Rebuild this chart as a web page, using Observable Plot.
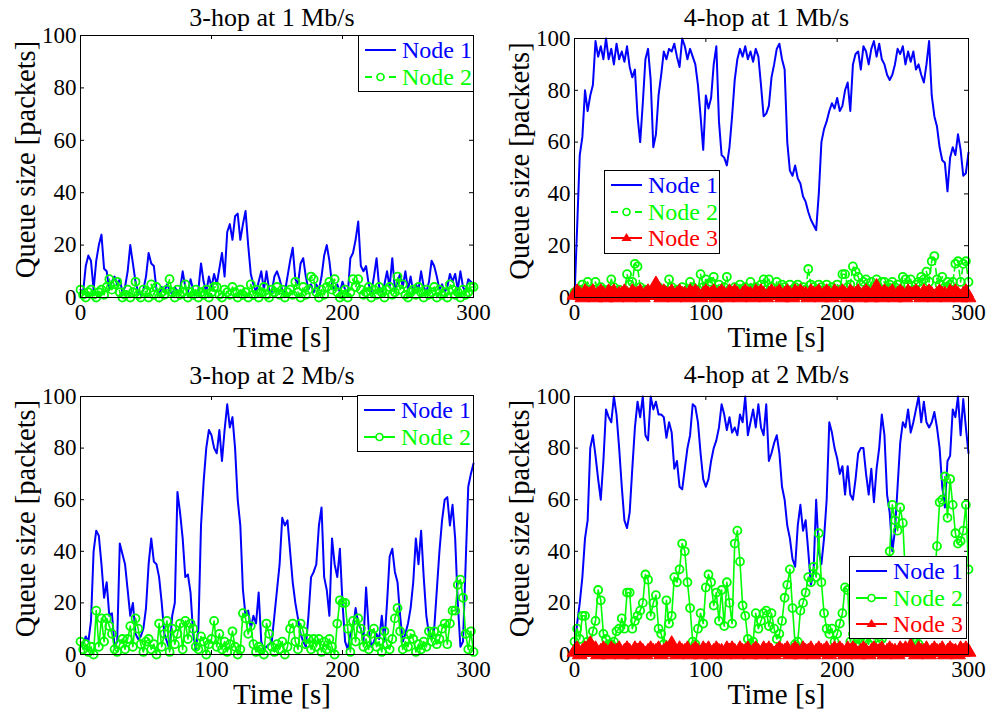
<!DOCTYPE html>
<html><head><meta charset="utf-8">
<script src="https://cdn.jsdelivr.net/npm/d3@7"></script>
<script src="https://cdn.jsdelivr.net/npm/@observablehq/plot@0.6"></script>
<style>
body{margin:0;background:#fff;}
#wrap{position:relative;width:992px;height:712px;overflow:hidden;background:#fff;font-family:"Liberation Serif","Times New Roman",serif;}
.panel{position:absolute;width:496px;height:356px;}
.legend{position:absolute;background:#fff;border:1.5px solid #000;box-sizing:border-box;}
.legend .sw{position:absolute;}
.legend .lb{position:absolute;font-size:24px;line-height:26px;white-space:nowrap;}
</style>
</head><body><div id="wrap"></div>
<script>
// time axis: one sample every 2 s, 0..300
const timeStep = 2;
const xTicks = [0, 100, 200, 300];
const yTicks = [0, 20, 40, 60, 80, 100];
const seriesNames = ["Node 1", "Node 2", "Node 3"];
const titles = ["3-hop at 1 Mb/s", "4-hop at 1 Mb/s", "3-hop at 2 Mb/s", "4-hop at 2 Mb/s"];
const xLabel = "Time [s]";
const yLabel = "Queue size [packets]";

// 3-hop at 1 Mb/s
const a_node1 = [
3,2,12,16,14,3,14,20,24,11,
10,3,6,8,5,7,2,4,10,20,
13,6,2,1,3,8,17,13,12,3,
1,4,2,5,3,1,4,2,3,10,
4,2,7,3,1,3,13,6,2,8,
4,9,5,11,17,8,25,28,22,31,
32,22,28,33,20,9,5,2,6,10,
3,10,3,2,8,10,7,3,2,8,
14,19,7,5,13,15,8,3,5,2,
5,3,8,16,20,14,5,3,5,2,
6,3,1,15,17,22,29,12,10,12,
5,2,8,15,4,2,5,10,4,15,
3,6,9,4,10,3,8,2,5,3,
10,4,2,6,14,12,8,3,5,2,
4,9,6,9,3,10,4,2,7,6,
5];
const a_node2 = [
3,1,0,2,3,1,0,2,3,1,
4,7,3,5,6,2,0,1,3,0,
2,6,1,0,3,2,0,5,1,4,
0,2,1,3,7,2,0,3,1,2,
5,0,2,1,3,0,2,1,3,0,
2,4,4,1,0,3,2,1,4,2,
0,3,1,2,0,5,1,3,0,2,
4,1,0,3,2,4,1,3,0,2,
3,1,6,2,0,4,1,3,8,7,
2,0,3,1,4,6,3,7,2,0,
1,3,0,2,7,4,7,3,1,2,
4,0,3,1,4,2,0,3,4,1,
2,8,3,5,1,0,2,3,1,4,
2,0,3,1,2,4,0,3,1,2,
0,5,3,1,2,0,3,1,2,4,
4];

// 4-hop at 1 Mb/s
const b_node1 = [
0,27,55,62,80,72,78,82,99,93,
97,92,100,92,96,90,98,92,95,91,
97,89,85,88,70,60,75,92,96,84,
58,63,78,86,95,92,96,95,98,93,
89,100,97,92,96,93,90,82,70,57,
78,73,77,90,97,68,55,54,51,58,
70,84,92,96,93,97,92,95,91,96,
93,82,70,71,74,85,90,96,98,92,
88,60,49,47,51,46,44,39,37,33,
30,28,26,40,60,65,68,72,75,73,
77,72,74,80,83,72,90,94,95,88,
97,95,90,96,99,93,98,92,90,86,
84,86,90,96,94,97,90,95,91,95,
88,90,86,83,90,99,78,70,66,58,
53,52,41,54,58,55,63,57,47,48,
56];
const b_node2 = [
2,1,3,5,2,6,3,1,6,2,
4,3,1,3,7,4,2,3,1,2,
9,5,6,13,12,4,2,3,1,2,
3,2,4,1,3,2,7,4,2,3,
1,4,2,3,6,4,2,3,9,4,
7,5,6,8,3,5,2,4,8,3,
2,4,1,5,3,4,2,6,3,4,
2,5,7,3,7,4,2,6,3,5,
4,2,5,3,4,5,2,4,3,11,
5,4,3,5,4,2,5,3,4,2,
5,3,9,9,4,5,12,10,8,5,
6,7,3,6,4,7,3,6,6,3,
5,6,4,5,3,8,7,5,7,3,
5,6,8,7,10,6,14,16,7,5,
8,4,6,5,6,13,14,6,13,14,
6];
const b_node3 = [
1,2,1,0,2,1,1,2,0,1,
2,1,0,2,1,2,0,1,1,2,
1,0,2,1,1,2,0,1,2,1,
1,5,1,0,2,1,1,2,0,1,
2,1,1,0,2,1,2,1,0,1,
2,1,1,2,0,1,2,1,0,2,
1,2,1,0,1,2,1,1,0,2,
1,2,1,0,1,2,1,1,2,0,
1,2,1,0,2,1,2,1,1,0,
2,1,1,2,0,1,2,1,0,2,
1,1,2,1,0,2,1,1,2,0,
1,2,1,0,2,4,1,0,2,1,
1,2,0,1,2,1,0,2,1,1,
2,1,0,2,1,2,1,0,1,2,
1,1,0,2,1,2,1,0,1,2,
0];

// 3-hop at 2 Mb/s
const c_node1 = [
3,4,7,5,13,40,48,46,35,22,
28,15,16,3,5,43,39,35,25,15,
20,8,6,7,10,18,35,45,36,35,
30,20,8,5,2,15,20,63,55,45,
30,31,24,8,2,10,50,67,80,87,
85,80,78,87,75,87,97,88,92,80,
60,50,25,15,17,10,15,12,24,5,
2,3,4,5,15,25,35,53,50,52,
40,28,20,14,8,5,3,15,30,32,
35,50,57,30,25,15,45,35,30,41,
20,5,2,8,10,18,12,10,5,26,
10,3,5,8,6,15,5,20,38,41,
32,28,15,5,8,12,18,28,45,35,
48,30,15,8,6,10,25,40,52,60,
61,50,58,45,20,3,5,35,65,70,
74];
const c_node2 = [
5,2,4,1,3,0,17,3,14,5,
14,11,8,2,1,4,6,2,6,11,
3,14,10,4,1,5,6,2,4,0,
12,3,8,13,1,10,4,8,12,2,
13,6,12,10,3,2,7,5,0,4,
6,13,3,8,2,5,1,4,9,3,
0,2,16,14,8,11,4,1,3,2,
0,12,8,3,1,4,2,5,0,3,
10,12,5,2,12,9,4,6,2,6,
3,6,1,5,2,6,3,0,12,21,
20,20,10,1,13,5,14,10,3,6,
2,8,10,3,5,1,9,4,2,6,
14,18,9,2,5,3,8,6,1,4,
2,5,3,9,5,9,4,6,10,12,
4,12,17,17,27,29,22,8,2,9,
1];

// 4-hop at 2 Mb/s
const d_node1 = [
2,12,20,30,45,52,80,85,77,68,
60,75,95,92,90,100,93,80,65,52,
49,55,72,88,98,92,100,85,83,100,
95,98,93,93,92,84,90,86,72,75,
65,64,72,80,85,97,96,90,78,68,
65,68,75,80,83,88,97,93,87,92,
86,88,85,93,90,100,85,90,95,88,
97,88,85,97,75,78,82,85,78,65,
60,50,45,37,34,50,58,48,52,40,
27,32,60,40,35,45,60,90,86,80,
76,70,73,62,73,62,60,68,78,80,
80,70,62,72,59,72,80,93,85,62,
55,40,48,65,82,90,88,95,86,90,
95,100,90,98,90,88,90,94,88,80,
65,57,75,77,95,92,100,85,99,88,
78];
const d_node2 = [
5,10,6,15,15,5,4,9,13,25,
21,8,6,4,4,5,9,10,14,10,
24,24,10,13,15,17,20,31,29,15,
20,23,10,8,4,21,12,15,30,28,
33,43,40,28,18,5,4,10,16,12,
26,31,28,19,24,13,25,11,28,20,
12,43,48,36,19,15,6,4,5,16,
10,13,16,17,11,16,10,6,8,13,
22,27,33,18,4,5,17,20,24,30,
28,34,30,47,28,16,10,8,10,5,
8,12,16,26,25,5,8,4,6,10,
5,8,4,12,6,9,5,6,10,20,
40,58,52,48,57,51,30,15,8,5,
10,4,8,12,18,25,20,30,42,59,
60,69,53,68,58,47,43,44,48,58,
33];
const d_node3 = [
1,2,0,1,2,1,4,1,2,0,
1,2,1,0,2,1,1,2,0,1,
2,1,0,2,1,2,1,0,1,2,
1,1,2,0,1,2,1,4,1,0,
2,1,1,2,0,1,2,1,0,2,
1,2,0,1,2,1,1,0,2,1,
2,1,0,2,1,1,2,0,1,2,
1,0,2,1,2,1,0,1,2,1,
1,2,0,1,2,1,0,2,1,1,
2,0,1,2,1,1,2,0,1,2,
1,2,1,0,2,1,2,1,0,1,
2,1,0,1,2,1,1,2,0,1,
2,1,1,0,2,1,2,1,3,1,
0,2,1,1,2,0,1,2,1,1,
2,0,1,2,1,1,0,2,1,2,
1];

const BLUE = "#0000ff", GREEN = "#00ff00", RED = "#ff0000";
const FONT = '"Liberation Serif","Times New Roman",serif';

const panels = [
  {left:0, top:0, title:titles[0], m:{l:80,r:23,t:35,b:59}, s:[a_node1,a_node2,null], dashed:true, tdy:-10,
   legend:{x:358,y:35,w:116,h:57}},
  {left:496, top:0, title:titles[1], m:{l:78,r:24,t:38,b:59}, s:[b_node1,b_node2,b_node3], dashed:true, tdy:-13,
   legend:{x:604,y:170,w:116,h:84}},
  {left:0, top:356, title:titles[2], m:{l:80,r:23,t:40,b:58}, s:[c_node1,c_node2,null], dashed:false, tdy:-13,
   legend:{x:357,y:395,w:117,h:57}},
  {left:496, top:356, title:titles[3], m:{l:78,r:24,t:40,b:58}, s:[d_node1,d_node2,d_node3], dashed:false, tdy:-14,
   legend:{x:849,y:556,w:118,h:83}}
];

const wrap = document.getElementById("wrap");
const toRows = arr => arr.map((v, i) => ({t: i * timeStep, v}));

panels.forEach(p => {
  const W = 496, H = 356;
  const pw = W - p.m.l - p.m.r, ph = H - p.m.t - p.m.b;
  const marks = [
    Plot.tickX(xTicks, {x: d => d, insetTop: ph - 4, stroke: "black"}),
    Plot.tickX(xTicks, {x: d => d, insetBottom: ph - 4, stroke: "black"}),
    Plot.tickY(yTicks, {y: d => d, insetRight: pw - 4, stroke: "black"}),
    Plot.tickY(yTicks, {y: d => d, insetLeft: pw - 4, stroke: "black"}),
    Plot.axisX(xTicks, {tickSize: 0, tickPadding: 6, label: null, fontSize: 23}),
    Plot.axisY(yTicks, {tickSize: 0, tickPadding: 4, label: null, fontSize: 23})
  ];
  const [s1, s2, s3] = p.s;
  marks.push(Plot.line(toRows(s1), {x: "t", y: "v", stroke: BLUE, strokeWidth: 2}));
  const r2 = toRows(s2);
  marks.push(Plot.line(r2, {x: "t", y: "v", stroke: GREEN, strokeWidth: 1.6, strokeDasharray: p.dashed ? "6,4" : null}));
  marks.push(Plot.dot(r2, {x: "t", y: "v", r: 4, stroke: GREEN, strokeWidth: 1.8, fill: "none"}));
  if (s3) {
    const r3 = toRows(s3);
    marks.push(Plot.line(r3, {x: "t", y: "v", stroke: RED, strokeWidth: 3}));
    marks.push(Plot.dot(r3, {x: "t", y: "v", r: 5.5, symbol: "triangle", fill: RED, stroke: RED, strokeWidth: 1}));
  }
  marks.push(Plot.frame({stroke: "black", strokeWidth: 1}));
  marks.push(Plot.text([p.title], {text: d => d, frameAnchor: "top", textAnchor: "middle", lineAnchor: "bottom", dx: -5, dy: p.tdy, fontSize: 26}));
  marks.push(Plot.text([xLabel], {text: d => d, frameAnchor: "bottom", textAnchor: "middle", lineAnchor: "bottom", dx: 5, dy: 49, fontSize: 29}));
  marks.push(Plot.text([yLabel], {text: d => d, frameAnchor: "left", textAnchor: "middle", lineAnchor: "middle", rotate: -90, dx: -55, dy: -7, fontSize: 28.5}));

  const chart = Plot.plot({
    width: W, height: H,
    marginLeft: p.m.l, marginRight: p.m.r, marginTop: p.m.t, marginBottom: p.m.b,
    x: {domain: [0, 300]},
    y: {domain: [0, 100]},
    style: {fontFamily: FONT, fontSize: "23px", background: "transparent", color: "black", overflow: "visible"},
    marks
  });
  const div = document.createElement("div");
  div.className = "panel";
  div.style.left = p.left + "px";
  div.style.top = p.top + "px";
  div.appendChild(chart);
  wrap.appendChild(div);

  // legend
  const L = p.legend;
  const box = document.createElement("div");
  box.className = "legend";
  box.style.left = L.x + "px"; box.style.top = L.y + "px";
  box.style.width = L.w + "px"; box.style.height = L.h + "px";
  const items = [{c: BLUE, k: "line"}, {c: GREEN, k: p.dashed ? "dashcircle" : "linecircle"}];
  if (s3) items.push({c: RED, k: "linetri"});
  items.forEach((it, i) => {
    const cy = 14 + i * 26.5;
    let svg = "";
    if (it.k === "line") svg = `<line x1="0" x2="31" y1="8" y2="8" stroke="${it.c}" stroke-width="2"/>`;
    if (it.k === "dashcircle") svg = `<line x1="0" x2="7" y1="8" y2="8" stroke="${it.c}" stroke-width="2"/><line x1="24" x2="31" y1="8" y2="8" stroke="${it.c}" stroke-width="2"/><circle cx="15.5" cy="8" r="3.5" fill="none" stroke="${it.c}" stroke-width="1.7"/>`;
    if (it.k === "linecircle") svg = `<line x1="0" x2="31" y1="8" y2="8" stroke="${it.c}" stroke-width="2"/><circle cx="15.5" cy="8" r="3.5" fill="#fff" stroke="${it.c}" stroke-width="1.7"/>`;
    if (it.k === "linetri") svg = `<line x1="0" x2="31" y1="8" y2="8" stroke="${it.c}" stroke-width="2"/><path d="M15.5,3 L20.5,11 L10.5,11 Z" fill="${it.c}"/>`;
    const sw = document.createElement("div");
    sw.className = "sw";
    sw.style.left = "6px"; sw.style.top = (cy - 8) + "px";
    sw.innerHTML = `<svg width="32" height="16">${svg}</svg>`;
    box.appendChild(sw);
    const lb = document.createElement("div");
    lb.className = "lb";
    lb.style.left = "43px"; lb.style.top = (cy - 13) + "px";
    lb.style.color = it.c;
    lb.textContent = seriesNames[i];
    box.appendChild(lb);
  });
  wrap.appendChild(box);
});
</script></body></html>
